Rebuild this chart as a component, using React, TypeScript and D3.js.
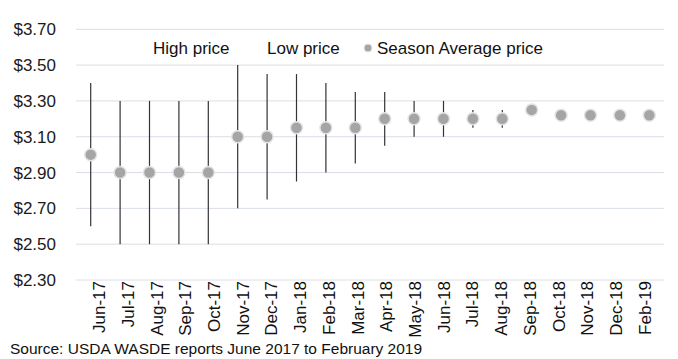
import * as d3 from 'd3';

const months = [
  'Jun-17', 'Jul-17', 'Aug-17', 'Sep-17', 'Oct-17', 'Nov-17', 'Dec-17', 'Jan-18',
  'Feb-18', 'Mar-18', 'Apr-18', 'May-18', 'Jun-18', 'Jul-18', 'Aug-18', 'Sep-18',
  'Oct-18', 'Nov-18', 'Dec-18', 'Feb-19',
];
const highPrice = [
  3.4, 3.3, 3.3, 3.3, 3.3, 3.5, 3.45, 3.45, 3.4, 3.35, 3.35, 3.3, 3.3, 3.25, 3.25,
  null, null, null, null, null,
];
const lowPrice = [
  2.6, 2.5, 2.5, 2.5, 2.5, 2.7, 2.75, 2.85, 2.9, 2.95, 3.05, 3.1, 3.1, 3.15, 3.15,
  null, null, null, null, null,
];
const seasonAvg = [
  3.0, 2.9, 2.9, 2.9, 2.9, 3.1, 3.1, 3.15, 3.15, 3.15, 3.2, 3.2, 3.2, 3.2, 3.2,
  3.25, 3.22, 3.22, 3.22, 3.22,
];
const yTicks = [2.3, 2.5, 2.7, 2.9, 3.1, 3.3, 3.5, 3.7];

const W = 678;
const H = 359;
const font = 'Arial, "Liberation Sans", sans-serif';

export default function App() {
  const x = d3.scaleBand().domain(months).range([76, 664]);
  // tick labels sit slightly off the category centres, as in the original
  const xLab = d3.scaleBand().domain(months).range([84.6, 658.9]);
  const y = d3.scaleLinear().domain([2.3, 3.7]).range([280, 29.3]);
  const fmt = (v: number) => '$' + v.toFixed(2);
  const cx = (m: string) => (x(m) ?? 0) + x.bandwidth() / 2;
  const lx = (m: string) => (xLab(m) ?? 0) + xLab.bandwidth() / 2;

  return (
    <svg width={W} height={H} style={{ position: 'absolute', left: 0, top: 0, background: '#fff' }}>
      {yTicks.map((t) => (
        <g key={t}>
          <line x1={76} x2={664} y1={y(t)} y2={y(t)} stroke="#d9dee6" strokeWidth={1} />
          <text x={56} y={y(t)} dy="0.36em" textAnchor="end" fontFamily={font} fontSize={17} fill="#1a1a1a">
            {fmt(t)}
          </text>
        </g>
      ))}
      {months.map((m, i) => {
        const hi = highPrice[i];
        const lo = lowPrice[i];
        return hi != null && lo != null ? (
          <line key={'w' + m} x1={cx(m)} x2={cx(m)} y1={y(hi)} y2={y(lo)} stroke="#333" strokeWidth={1.2} />
        ) : null;
      })}
      {months.map((m, i) => (
        <circle key={'d' + m} cx={cx(m)} cy={y(seasonAvg[i])} r={6} fill="#a5a5a5" stroke="#e4e4e4" strokeWidth={1.5} />
      ))}
      {months.map((m) => (
        <text
          key={'l' + m}
          transform={`translate(${lx(m)},281) rotate(-90)`}
          dy="0.36em"
          textAnchor="end"
          fontFamily={font}
          fontSize={17}
          fill="#111"
        >
          {m}
        </text>
      ))}
      <text x={153} y={54} fontFamily={font} fontSize={17} fill="#111">High price</text>
      <text x={267} y={54} fontFamily={font} fontSize={17} fill="#111">Low price</text>
      <circle cx={368} cy={48} r={4} fill="#a5a5a5" stroke="#e4e4e4" strokeWidth={1} />
      <text x={377} y={54} fontFamily={font} fontSize={17} fill="#111">Season Average price</text>
      <text x={10} y={354} fontFamily={font} fontSize={15.5} fill="#111">
        Source: USDA WASDE reports June 2017 to February 2019
      </text>
    </svg>
  );
}
